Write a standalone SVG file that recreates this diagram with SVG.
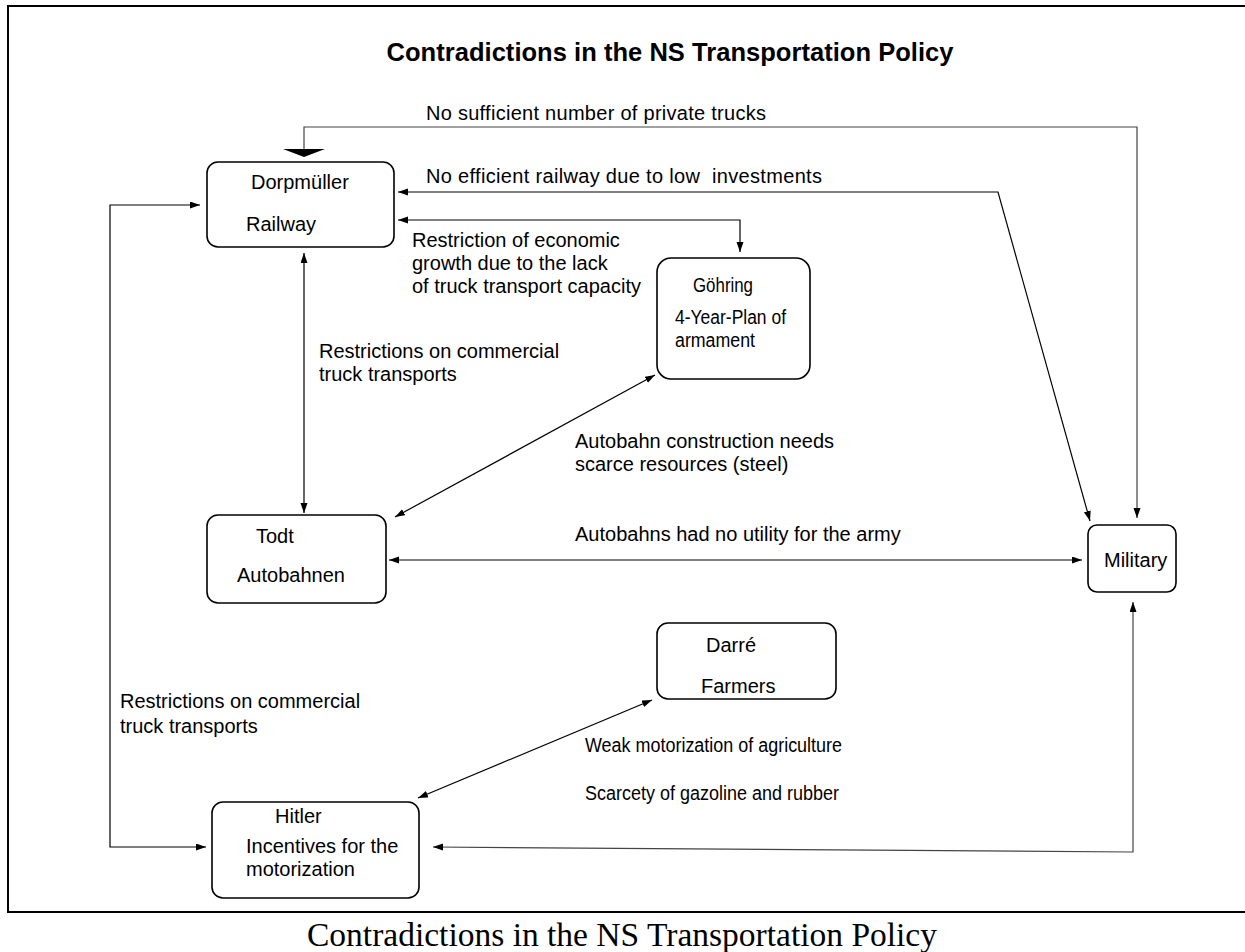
<svg xmlns="http://www.w3.org/2000/svg" width="1245" height="952" viewBox="0 0 1245 952">
<defs>
<marker id="ah" markerUnits="userSpaceOnUse" markerWidth="11" markerHeight="8" refX="10" refY="3.5" orient="auto-start-reverse">
<path d="M0,0 L10,3.5 L0,7 z" fill="#000"/>
</marker>
<style>
.box{fill:#fff;stroke:#000;stroke-width:1.6}
.t{font-family:"Liberation Sans",Arial,sans-serif;font-size:20px;fill:#000}
.c{fill:none;stroke:#000;stroke-width:1.2;marker-start:url(#ah);marker-end:url(#ah)}
.g{stroke:#444}
</style>
</defs>
<rect x="0" y="0" width="1245" height="952" fill="#fff"/>
<rect x="8" y="6" width="1240" height="906" fill="none" stroke="#000" stroke-width="2"/>
<text x="670" y="61" text-anchor="middle" textLength="567" style="font-family:'Liberation Sans',Arial,sans-serif;font-size:25.5px;font-weight:bold">Contradictions in the NS Transportation Policy</text>
<text x="622" y="946" text-anchor="middle" style="font-family:'Liberation Serif','Times New Roman',serif;font-size:33.5px">Contradictions in the NS Transportation Policy</text>

<g id="connectors">
<path class="c g" d="M304,149 V127 H1137 V518" style="marker-start:none"/>
<polygon points="283,149 325,149 304,157" fill="#000"/>
<text class="t" x="426" y="120" textLength="340">No sufficient number of private trucks</text>
<path class="c" d="M398,192 H998 L1090,521"/>
<text class="t" x="426" y="183" xml:space="preserve" style="white-space:pre" textLength="396">No efficient railway due to low  investments</text>
<path class="c" d="M398,220 H740 V252"/>
<text class="t" x="412" y="247">Restriction of economic</text>
<text class="t" x="412" y="270">growth due to the lack</text>
<text class="t" x="412" y="293">of truck transport capacity</text>
<path class="c" d="M304,253 V513"/>
<text class="t" x="319" y="358">Restrictions on commercial</text>
<text class="t" x="319" y="381">truck transports</text>
<path class="c" d="M395,517 L655,375"/>
<text class="t" x="575" y="448">Autobahn construction needs</text>
<text class="t" x="575" y="471">scarce resources (steel)</text>
<path class="c" d="M389,560 H1082"/>
<text class="t" x="575" y="541">Autobahns had no utility for the army</text>
<path class="c" d="M418,798 L652,700"/>
<text class="t" x="585" y="752" textLength="257" lengthAdjust="spacingAndGlyphs">Weak motorization of agriculture</text>
<path class="c g" d="M433,847 L1133,852 V602"/>
<text class="t" x="585" y="800" textLength="254" lengthAdjust="spacingAndGlyphs">Scarcety of gazoline and rubber</text>
<path class="c" d="M200,205 H110 V847 H206"/>
<text class="t" x="120" y="708">Restrictions on commercial</text>
<text class="t" x="120" y="733">truck transports</text>
</g>

<g id="dorpmueller">
<rect class="box" x="207" y="162" width="187" height="85" rx="11"/>
<text class="t" x="251" y="189">Dorpmüller</text>
<text class="t" x="246" y="231">Railway</text>
</g>
<g id="goehring">
<rect class="box" x="657" y="258" width="153" height="121" rx="14"/>
<text class="t" x="693" y="292" textLength="60" lengthAdjust="spacingAndGlyphs">Göhring</text>
<text class="t" x="675" y="324" textLength="111" lengthAdjust="spacingAndGlyphs">4-Year-Plan of</text>
<text class="t" x="675" y="347" textLength="80" lengthAdjust="spacingAndGlyphs">armament</text>
</g>
<g id="todt">
<rect class="box" x="207" y="515" width="179" height="88" rx="11"/>
<text class="t" x="256" y="543">Todt</text>
<text class="t" x="237" y="582">Autobahnen</text>
</g>
<g id="military">
<rect class="box" x="1088" y="525" width="88" height="67" rx="9"/>
<text class="t" x="1104" y="567">Military</text>
</g>
<g id="darre">
<rect class="box" x="657" y="623" width="179" height="76" rx="11"/>
<text class="t" x="706" y="652">Darré</text>
<text class="t" x="701" y="693">Farmers</text>
</g>
<g id="hitler">
<rect class="box" x="212" y="802" width="207" height="96" rx="11"/>
<text class="t" x="275" y="823">Hitler</text>
<text class="t" x="246" y="853">Incentives for the</text>
<text class="t" x="246" y="876">motorization</text>
</g>
</svg>
